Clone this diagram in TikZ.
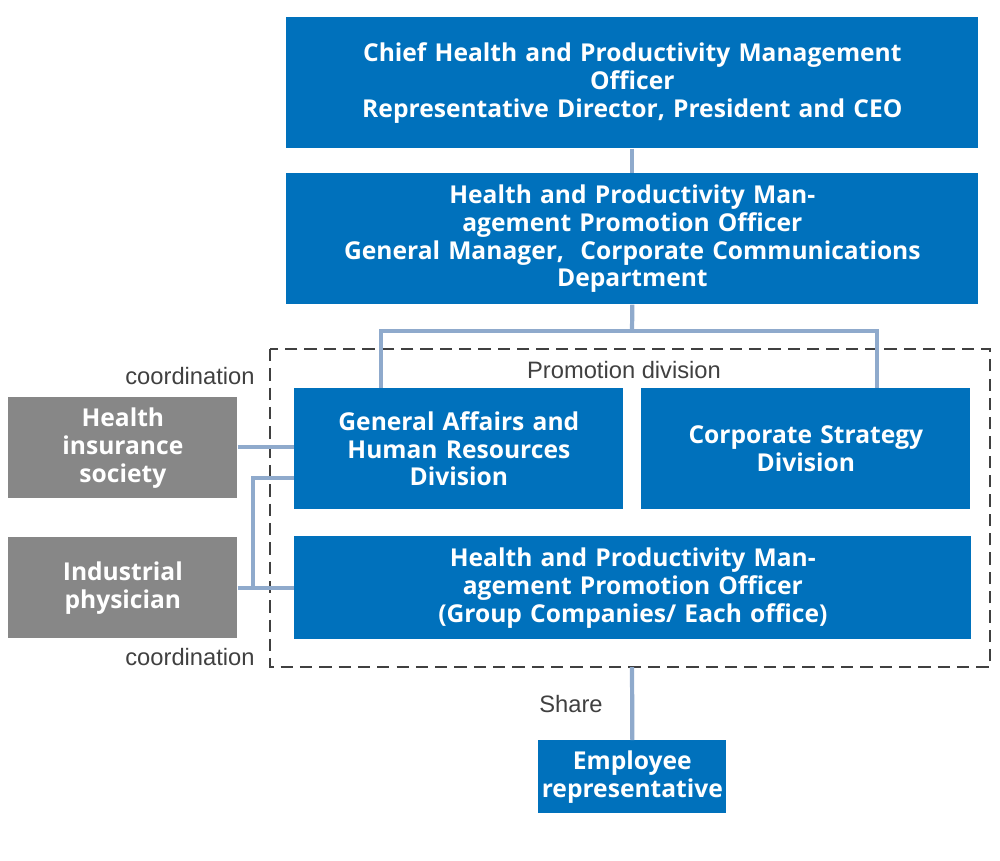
\documentclass[tikz,border=0pt]{standalone}
\usepackage{fontspec}
\setmainfont{Open Sans}
\newfontfamily\labelfont{Liberation Sans}
\usetikzlibrary{positioning,calc}
\definecolor{boxblue}{HTML}{0071BC}
\definecolor{boxgray}{HTML}{878787}
\definecolor{linkblue}{HTML}{8FAACC}
\definecolor{dashgray}{HTML}{404040}

\tikzset{
  org/.style={fill=boxblue,text=white,font=\bfseries\fontsize{14}{15.8}\selectfont,
    align=center,inner sep=0pt,anchor=north west},
  ext/.style={org,fill=boxgray},
  link/.style={linkblue,line width=2.4pt},
  note/.style={text=dashgray,font=\labelfont\fontsize{13.5}{16}\selectfont,inner sep=0pt}
}

\begin{document}
\begin{tikzpicture}[x=0.02cm,y=-0.02cm]
\useasboundingbox (0,0) rectangle (1000,860);

% officers
\node[org,text width=692*0.02cm,minimum height=131*0.02cm] (chief) at (286,17)
  {Chief Health and Productivity Management\\Officer\\Representative Director, President and CEO};
\node[org,text width=692*0.02cm,minimum height=131*0.02cm] (promo) at (286,173)
  {Health and Productivity Management Promotion Officer\\General Manager,\ \ Corporate Communications\\Department};

% promotion division
\draw[dashgray,line width=1.5pt,dash pattern=on 7pt off 4pt] (270,349) rectangle (990,667);
\node[note] (divlabel) at (624,370) {Promotion division};
\node[org,text width=329*0.02cm,minimum height=121*0.02cm] (ga) at (294,388)
  {General Affairs and\\Human Resources\\Division};
\node[org,text width=329*0.02cm,minimum height=121*0.02cm] (cs) at (641,388)
  {Corporate Strategy\\Division};
\node[org,text width=677*0.02cm,minimum height=103*0.02cm] (group) at (294,536)
  {Health and Productivity Management Promotion Officer\\(Group Companies/ Each office)};

% outside
\node[ext,text width=229*0.02cm,minimum height=101*0.02cm] (his) at (8,397)
  {Health\\insurance\\society};
\node[ext,text width=229*0.02cm,minimum height=101*0.02cm] (phys) at (8,537)
  {Industrial\\physician};
\node[org,text width=188*0.02cm,minimum height=73*0.02cm] (emp) at (538,740)
  {Employee\\representative};

\node[note] (coordtop) at (190,376) {coordination};
\node[note] (coordbot) at (190,657) {coordination};
\node[note] (share) at (571,704) {Share};

% connectors
\draw[link] (chief.south) -- (promo.north);
\coordinate (split) at (632,331);
\draw[link] (promo.south) -- (split);
\draw[link] (ga.north -| 381,0) |- (split) -| (cs.north -| 877,0);
\draw[link] (his.east |- 0,447) -- (ga.west |- 0,447);
\draw[link] (phys.east |- 0,588) -- (group.west |- 0,588);
\draw[link] (ga.west |- 0,478) -| (253,588);
\draw[link] (632,667) -- (emp.north);
\end{tikzpicture}
\end{document}
